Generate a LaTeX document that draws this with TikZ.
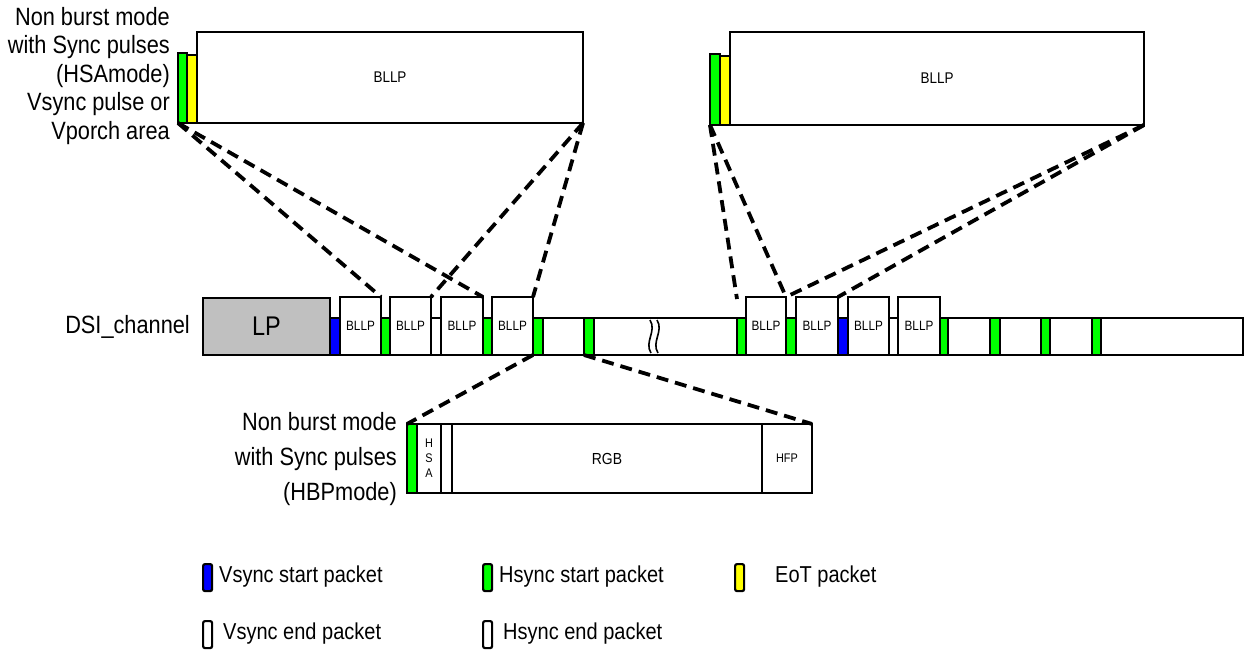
\documentclass[tikz,border=0pt]{standalone}
\usepackage{fontspec}
\setmainfont[FakeStretch=0.87]{Liberation Sans}
\definecolor{pgreen}{RGB}{0,255,0}
\definecolor{pblue}{RGB}{0,0,255}
\definecolor{pyellow}{RGB}{255,255,0}
\definecolor{pgray}{RGB}{192,192,192}
\begin{document}
\begin{tikzpicture}[x=1pt,y=-1pt,
  pk/.style={draw, line width=2.8pt, inner sep=0pt, outer sep=0pt, anchor=north west, fill=white},
  gr/.style={pk, fill=pgreen},
  bl/.style={pk, fill=pblue},
  ye/.style={pk, fill=pyellow},
  small/.style={pk, minimum height=58pt, font=\fontsize{13.5}{16}\selectfont},
  bar/.style={minimum height=37pt},
  conn/.style={line width=3.8pt, dash pattern=on 12pt off 7pt},
  leg/.style={draw, line width=2.2pt, rounded corners=2pt, inner sep=0pt, anchor=north west, minimum width=9pt, minimum height=27pt},
  legtext/.style={anchor=west, inner sep=0pt, font=\fontsize{23}{26}\selectfont},
  lbl/.style={anchor=east, align=right, inner sep=0pt}]
\useasboundingbox (0,0) rectangle (1248,668);

% DSI channel strip
\node[pk, fill=pgray, minimum width=127pt, minimum height=57pt, font=\fontsize{27}{30}\selectfont] (lp) at (203,298) {LP};
\node[pk, minimum width=913pt, bar] (strip) at (330,318) {};
\node[bl, minimum width=10pt, bar] (vs1) at (330,318) {};
\node[small, minimum width=41pt] (b1) at (340,297) {BLLP};
\node[gr, minimum width=9pt, bar] (g1) at (381,318) {};
\node[small, minimum width=41pt] (b2) at (390,297) {BLLP};
\node[small, minimum width=42pt] (b3) at (441,297) {BLLP};
\node[gr, minimum width=9pt, bar] (g2) at (483,318) {};
\node[small, minimum width=41pt] (b4) at (492,297) {BLLP};
\node[gr, minimum width=10pt, bar] (g3) at (533,318) {};
\node[gr, minimum width=10pt, bar] (g4) at (584,318) {};
\node[gr, minimum width=9pt, bar] (g5) at (737,318) {};
\node[small, minimum width=40pt] (b5) at (746,297) {BLLP};
\node[gr, minimum width=10pt, bar] (g6) at (786,318) {};
\node[small, minimum width=42pt] (b6) at (796,297) {BLLP};
\node[bl, minimum width=10pt, bar] (vs2) at (838,318) {};
\node[small, minimum width=41pt] (b7) at (848,297) {BLLP};
\node[small, minimum width=42pt] (b8) at (898,297) {BLLP};
\node[gr, minimum width=8pt, bar] (g7) at (940,318) {};
\node[gr, minimum width=10pt, bar] (g8) at (990,318) {};
\node[gr, minimum width=9pt, bar] (g9) at (1041,318) {};
\node[gr, minimum width=9pt, bar] (g10) at (1092,318) {};

% break symbol
\draw[line width=1.6pt] (650,320) .. controls (657,331) and (644,342) .. (651,353);
\draw[line width=1.6pt] (657,320) .. controls (664,331) and (651,342) .. (658,353);

% top left expansion
\node[gr, minimum width=9pt, minimum height=70pt] (tg1) at (178,53) {};
\node[ye, minimum width=10pt, minimum height=68pt] (ty1) at (187,55) {};
\node[pk, minimum width=386pt, minimum height=91pt, font=\fontsize{15.5}{18}\selectfont] (big1) at (197,32) {BLLP};

% top right expansion
\node[gr, minimum width=10pt, minimum height=71pt] (tg2) at (710,54) {};
\node[ye, minimum width=10pt, minimum height=69pt] (ty2) at (720,56) {};
\node[pk, minimum width=414pt, minimum height=93pt, font=\fontsize{15.5}{18}\selectfont] (big2) at (730,32) {BLLP};

% bottom expansion
\node[gr, minimum width=10pt, minimum height=69pt] (hg) at (407,424) {};
\node[pk, minimum width=24pt, minimum height=69pt, align=center, font=\fontsize{12.5}{15}\selectfont] (hsa) at (417,424) {H\\S\\A};
\node[pk, minimum width=11pt, minimum height=69pt] (hx) at (441,424) {};
\node[pk, minimum width=310pt, minimum height=69pt, font=\fontsize{16}{19}\selectfont] (rgb) at (452,424) {RGB};
\node[pk, minimum width=50pt, minimum height=69pt, font=\fontsize{12.5}{15}\selectfont] (hfp) at (762,424) {HFP};

% connectors
\coordinate (c1) at (737,299);
\draw[conn] (tg1.south west) -- (b1.north east);
\draw[conn] (tg1.south west) -- (b3.north east);
\draw[conn] (big1.south east) -- (b2.north east);
\draw[conn] (big1.south east) -- (b4.north east);
\draw[conn] (tg2.south west) -- (c1);
\draw[conn] (tg2.south west) -- (b5.north east);
\draw[conn] (big2.south east) -- (b5.north east);
\draw[conn] (big2.south east) -- (b6.north east);
\draw[conn] (g3.south west) -- (hg.north west);
\draw[conn] (g4.south west) -- (hfp.north east);

% labels
\node[lbl, font=\fontsize{25}{28.5}\selectfont] (ltop) at (170,76) {Non burst mode\\with Sync pulses\\(HSAmode)\\Vsync pulse or\\Vporch area};
\node[lbl, font=\fontsize{25}{35}\selectfont] (lbot) at (397,459) {Non burst mode\\with Sync pulses\\(HBPmode)};
\node[lbl, font=\fontsize{25}{28}\selectfont] (dsi) at (190,327) {DSI\_channel};

% legend
\node[leg, fill=pblue] (lvs) at (202,563) {};
\node[legtext] (tvs) at (219,577) {Vsync start packet};
\node[leg, fill=pgreen] (lhs) at (482,563) {};
\node[legtext] (ths) at (499,577) {Hsync start packet};
\node[leg, fill=pyellow] (leot) at (734,563) {};
\node[legtext] (teot) at (775,577) {EoT packet};
\node[leg, fill=white] (lve) at (202,620) {};
\node[legtext] (tve) at (223,634) {Vsync end packet};
\node[leg, fill=white] (lhe) at (482,620) {};
\node[legtext] (the) at (503,634) {Hsync end packet};
\end{tikzpicture}
\end{document}
